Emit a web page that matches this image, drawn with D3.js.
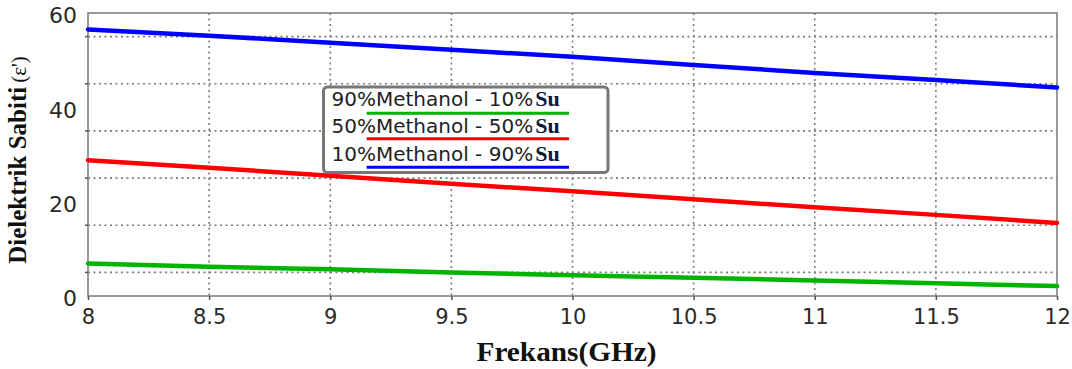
<!DOCTYPE html>
<html>
<head>
<meta charset="utf-8">
<script src="https://cdn.jsdelivr.net/npm/d3@7"></script>
<style>
  html, body { margin: 0; padding: 0; background: #fff; }
  svg { display: block; }
</style>
</head>
<body>
<svg id="chart" width="1072" height="369"></svg>
<script>
// ---- data ----
const freqs = [8, 8.5, 9, 9.5, 10, 10.5, 11, 11.5, 12];
const methanol90 = [6.9, 6.2, 5.65, 5.0, 4.4, 3.85, 3.3, 2.7, 2.1];
const methanol50 = [28.8, 27.2, 25.5, 23.8, 22.2, 20.5, 18.8, 17.2, 15.5];
const methanol10 = [56.5, 55.2, 53.7, 52.2, 50.7, 49.0, 47.3, 45.8, 44.2];
const seriesNames = ["90%Methanol - 10%", "50%Methanol - 50%", "10%Methanol - 90%"];
const seriesSuffix = "Su";
const seriesColors = ["#00b400", "#ff0000", "#0000ff"];
const xTicks = [8, 8.5, 9, 9.5, 10, 10.5, 11, 11.5, 12];
const xTickLabels = ["8", "8.5", "9", "9.5", "10", "10.5", "11", "11.5", "12"];
const yTickLabels = [0, 20, 40, 60];
const yGrid = [5, 15, 25, 35, 45, 55];
const xTitle = "Frekans(GHz)";
const yTitleMain = "Dielektrik Sabiti";
const yTitleSym = "(ε')";

const series = [methanol90, methanol50, methanol10];

const svg = d3.select("#chart");
const L = 88, R = 1057, T = 13, B = 296;

const x = d3.scaleLinear().domain([8, 12]).range([L, R]);
const y = d3.scaleLinear().domain([0, 60]).range([B, T]);

const gridColor = "#7a7a7a";

// grid lines
svg.append("g").selectAll("line.h").data(yGrid).join("line")
  .attr("x1", L).attr("x2", R)
  .attr("y1", d => y(d)).attr("y2", d => y(d))
  .attr("stroke", gridColor).attr("stroke-width", 1.6)
  .attr("stroke-dasharray", "2,3.5");
svg.append("g").selectAll("line.v").data(xTicks.slice(1, -1)).join("line")
  .attr("x1", d => x(d)).attr("x2", d => x(d))
  .attr("y1", T).attr("y2", B)
  .attr("stroke", gridColor).attr("stroke-width", 1.6)
  .attr("stroke-dasharray", "2,3.5");

// frame
svg.append("rect").attr("x", L).attr("y", T).attr("width", R - L).attr("height", B - T)
  .attr("fill", "none").attr("stroke", "#808080").attr("stroke-width", 1.6);

// x axis ticks + labels
const xAxis = d3.axisBottom(x).tickValues(xTicks).tickSize(4)
  .tickFormat((d, i) => xTickLabels[i]).tickPadding(9);
const gx = svg.append("g").attr("transform", `translate(0,${B})`).call(xAxis);
gx.select(".domain").remove();
gx.selectAll(".tick line").attr("stroke", "#555").attr("stroke-width", 1.5);
gx.selectAll(".tick text")
  .attr("font-family", "DejaVu Sans, Verdana, sans-serif")
  .attr("font-size", 21).attr("fill", "#2a2a2a");

// y axis ticks + labels
const yAxis = d3.axisLeft(y).tickValues(yTickLabels).tickSize(0).tickPadding(11)
  .tickFormat(d3.format("d"));
const gy = svg.append("g").attr("transform", `translate(${L},0)`).call(yAxis);
gy.select(".domain").remove();
gy.selectAll(".tick text")
  .attr("font-family", "DejaVu Sans, Verdana, sans-serif")
  .attr("font-size", 22).attr("fill", "#2a2a2a")
  .attr("dy", "0.45em");
svg.append("g").selectAll("line").data(yGrid).join("line")
  .attr("x1", L - 3).attr("x2", L)
  .attr("y1", d => y(d)).attr("y2", d => y(d))
  .attr("stroke", "#555").attr("stroke-width", 1.5);

// series lines
const line = d3.line().x((d, i) => x(freqs[i])).y(d => y(d));
series.forEach((s, k) => {
  svg.append("path").datum(s)
    .attr("d", line)
    .attr("fill", "none")
    .attr("stroke", seriesColors[k])
    .attr("stroke-width", 4.5)
    .attr("stroke-linecap", "round");
});

// legend
const lg = svg.append("g");
lg.append("rect").attr("x", 323.5).attr("y", 87).attr("width", 284.5).attr("height", 85.5)
  .attr("rx", 4).attr("fill", "#fff").attr("stroke", "#777").attr("stroke-width", 3);
const baselines = [106, 132.7, 161];
const underY = [113.3, 138.7, 167.3];
seriesNames.forEach((name, k) => {
  const t = lg.append("text").attr("x", 331.5).attr("y", baselines[k])
    .attr("font-family", "DejaVu Sans, Verdana, sans-serif")
    .attr("font-size", 20).attr("fill", "#222");
  t.append("tspan").text(name);
  t.append("tspan").text(seriesSuffix)
    .attr("dx", 2)
    .attr("font-family", "Liberation Serif, Times New Roman, serif")
    .attr("font-weight", "bold").attr("font-size", 22).attr("fill", "#0a1a3a");
  lg.append("line").attr("x1", 366.7).attr("x2", 569)
    .attr("y1", underY[k]).attr("y2", underY[k])
    .attr("stroke", seriesColors[k]).attr("stroke-width", 3);
});

// axis titles
svg.append("text")
  .attr("x", (L + R) / 2 - 6).attr("y", 361)
  .attr("text-anchor", "middle")
  .attr("font-family", "Liberation Serif, Times New Roman, serif")
  .attr("font-weight", "bold").attr("font-size", 28).attr("fill", "#111")
  .attr("textLength", 180).attr("lengthAdjust", "spacingAndGlyphs")
  .text(xTitle);

const yt = svg.append("text")
  .attr("transform", "translate(26,160) rotate(-90)")
  .attr("text-anchor", "middle")
  .attr("font-family", "Liberation Serif, Times New Roman, serif")
  .attr("fill", "#111");
yt.append("tspan").text(yTitleMain).attr("font-weight", "bold").attr("font-size", 25);
yt.append("tspan").text(yTitleSym).attr("dx", 4).attr("font-size", 21);
</script>
</body>
</html>
